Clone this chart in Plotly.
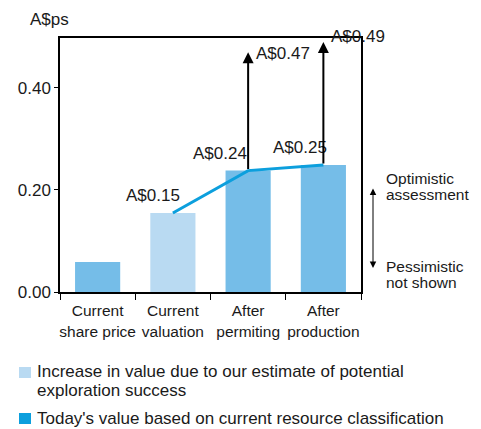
import plotly.graph_objects as go

categories = ["Current<br>share price", "Current<br>valuation", "After<br>permiting", "After<br>production"]
bar_values = [0.059, 0.155, 0.238, 0.249]
line_values = [None, 0.155, 0.238, 0.249]
upside_values = [None, None, 0.47, 0.49]
value_labels = ["A$0.15", "A$0.24", "A$0.25"]
upside_labels = ["A$0.47", "A$0.49"]
y_ticks = [0.0, 0.2, 0.4]
y_tick_labels = ["0.00", "0.20", "0.40"]
legend_labels = [["Increase in value due to our estimate of potential", "exploration success"],
                 ["Today's value based on current resource classification"]]

MID = "#75BDE8"
LIGHT = "#B9DAF2"
BRIGHT = "#0C9FDD"
FONT = "Liberation Sans, Arial, sans-serif"
Y_MAX = 0.498

bar_colors = [MID, LIGHT, MID, MID]

# page body has an 8px margin; plot area target: x 60..361, y 38..292 in window pixels
OFF = 8
PL, PT, PW, PH = 60, 38, 301, 254
FW, FH = 481 - OFF, 429 - OFF


def px(x):
    return (x - PL) / PW


def py(y):
    return (PT + PH - y) / PH


fig = go.Figure()
fig.add_trace(go.Bar(x=categories, y=bar_values, marker=dict(color=bar_colors, line=dict(width=0)),
                     width=0.6, showlegend=False, hoverinfo="skip"))
fig.add_trace(go.Scatter(x=categories, y=line_values, mode="lines",
                         line=dict(color=BRIGHT, width=3), showlegend=False, hoverinfo="skip"))

ann = []
label_offsets = [(-0.26, 0.035), (-0.37, 0.034), (-0.31, 0.035)]
for i, (lab, (dx, dy)) in enumerate(zip(value_labels, label_offsets)):
    idx = i + 1
    ann.append(dict(x=idx + dx, y=line_values[idx] + dy, text=lab, showarrow=False,
                    xref="x", yref="y", xanchor="center", yanchor="middle", font=dict(size=17)))
for idx in (2, 3):
    ann.append(dict(x=idx, y=upside_values[idx], ax=idx, ay=line_values[idx], xref="x", yref="y",
                    axref="x", ayref="y", showarrow=True, arrowhead=2, arrowsize=1.1,
                    arrowwidth=2, arrowcolor="black", text=""))
up_offsets = [(0.46, -0.002), (0.46, 0.01)]
for (lab, (dx, dy)), idx in zip(zip(upside_labels, up_offsets), (2, 3)):
    ann.append(dict(x=idx + dx, y=(upside_values[idx] + dy) / Y_MAX, text=lab, showarrow=False,
                    xref="x", yref="paper", xanchor="center", yanchor="middle", font=dict(size=17)))

ann.append(dict(x=px(28), y=py(20), xref="paper", yref="paper", text="A$ps", showarrow=False,
                xanchor="left", yanchor="middle", font=dict(size=17)))

ann.append(dict(x=px(373), y=py(268), ax=px(373), ay=py(187), xref="x domain", yref="y domain",
                axref="x domain", ayref="y domain", showarrow=True, arrowhead=2, arrowside="end+start",
                arrowsize=1.3, arrowwidth=1, arrowcolor="black", text=""))
for txt, yy in [("Optimistic", 178), ("assessment", 194), ("Pessimistic", 266), ("not shown", 282)]:
    ann.append(dict(x=px(384), y=py(yy), xref="paper", yref="paper", text=txt,
                    showarrow=False, xanchor="left", yanchor="middle", font=dict(size=15.5)))

shapes = []
leg_colors = [LIGHT, BRIGHT]
leg_rows = [[372, 390], [418]]
for col, lines, rows in zip(leg_colors, legend_labels, leg_rows):
    top = rows[0] - 5
    shapes.append(dict(type="rect", xref="paper", yref="paper",
                       x0=px(19), x1=px(31), y0=py(top), y1=py(top + 11),
                       fillcolor=col, line=dict(width=0)))
    for txt, yy in zip(lines, rows):
        ann.append(dict(x=px(35), y=py(yy), xref="paper", yref="paper", text=txt,
                        showarrow=False, xanchor="left", yanchor="middle", font=dict(size=17)))

fig.update_layout(
    width=FW, height=FH,
    margin=dict(l=PL - OFF, r=FW - (PL - OFF) - PW, t=PT - OFF, b=FH - (PT - OFF) - PH),
    plot_bgcolor="white", paper_bgcolor="white",
    font=dict(family=FONT, size=17, color="#1a1a1a"),
    annotations=ann, shapes=shapes,
    showlegend=False,
    xaxis=dict(type="category", categoryorder="array", categoryarray=categories,
               range=[-0.5, 3.5], showline=True, mirror=True, linecolor="black", linewidth=1.5,
               ticks="outside", tickson="boundaries", ticklen=6, tickcolor="black", tickwidth=1,
               showgrid=False, tickfont=dict(size=15.5), tickangle=0, ticklabelstandoff=4,
               automargin=False, fixedrange=True),
    yaxis=dict(range=[0, Y_MAX], tickvals=y_ticks, ticktext=y_tick_labels, showline=True,
               mirror=True, linecolor="black", linewidth=1.5, ticks="outside", ticklen=4,
               tickcolor="black", tickwidth=1, showgrid=False, zeroline=False,
               tickfont=dict(size=17), automargin=False, fixedrange=True),
)

fig.write_html("out.html")
